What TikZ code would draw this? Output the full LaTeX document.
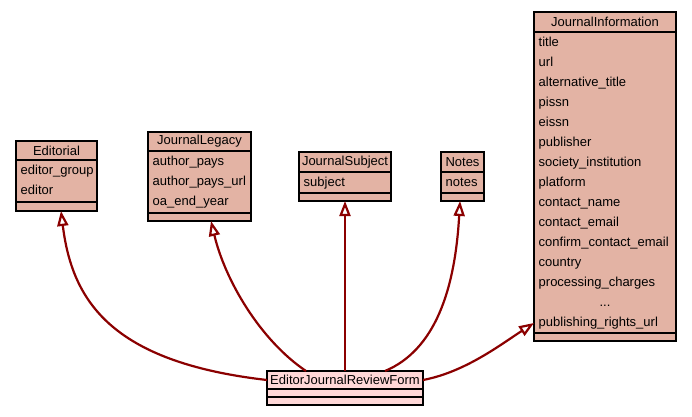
\documentclass[tikz,border=0pt]{standalone}
\usepackage{fontspec}
\setmainfont{Liberation Sans}
\usetikzlibrary{arrows.meta}
\definecolor{clsfill}{HTML}{E3B3A4}
\definecolor{formfill}{HTML}{FFD8D8}
\definecolor{edgecol}{HTML}{8B0000}
\begin{document}
\begin{tikzpicture}[x=1pt,y=-1pt,
  part/.style={draw=black, line width=1.2pt, fill=clsfill, inner sep=0pt, outer sep=0pt, anchor=north west, font=\fontsize{13}{15}\selectfont},
  attr/.style={anchor=base west, inner sep=0pt, font=\fontsize{13}{15}\selectfont},
  gen/.style={draw=edgecol, line width=2.2pt, -{Triangle[open, length=15pt, width=11pt]}}
]
\useasboundingbox[fill=white] (0,0) rectangle (692,416);

% Editorial
\node[part, minimum width=81pt, minimum height=19pt] (edT) at (16,141) {Editorial};
\node[part, minimum width=81pt, minimum height=42pt] (edA) at (16,160) {};
\node[part, minimum width=81pt, minimum height=9pt] (edO) at (16,202) {};
\node[attr] (ed1) at (20.5,174.5) {editor\_group};
\node[attr] (ed2) at (20.5,194.5) {editor};

% JournalLegacy
\node[part, minimum width=103pt, minimum height=19pt] (jlT) at (148,132) {JournalLegacy};
\node[part, minimum width=103pt, minimum height=62pt] (jlA) at (148,151) {};
\node[part, minimum width=103pt, minimum height=8pt] (jlO) at (148,213) {};
\node[attr] (jl1) at (152.5,165.5) {author\_pays};
\node[attr] (jl2) at (152.5,185.5) {author\_pays\_url};
\node[attr] (jl3) at (152.5,205.5) {oa\_end\_year};

% JournalSubject
\node[part, minimum width=92pt, minimum height=20pt] (jsT) at (299,152) {JournalSubject};
\node[part, minimum width=92pt, minimum height=21pt] (jsA) at (299,172) {};
\node[part, minimum width=92pt, minimum height=8pt] (jsO) at (299,193) {};
\node[attr] (js1) at (303.5,186.5) {subject};

% Notes
\node[part, minimum width=43pt, minimum height=20pt] (noT) at (441,152) {Notes};
\node[part, minimum width=43pt, minimum height=21pt] (noA) at (441,172) {};
\node[part, minimum width=43pt, minimum height=8pt] (noO) at (441,193) {};
\node[attr] (no1) at (445.5,186.5) {notes};

% JournalInformation
\node[part, minimum width=142pt, minimum height=20pt] (jiT) at (534,12) {JournalInformation};
\node[part, minimum width=142pt, minimum height=301pt] (jiA) at (534,32) {};
\node[part, minimum width=142pt, minimum height=8pt] (jiO) at (534,333) {};
\node[attr] (ji1) at (538.5,46.5) {title};
\node[attr] (ji2) at (538.5,66.5) {url};
\node[attr] (ji3) at (538.5,86.5) {alternative\_title};
\node[attr] (ji4) at (538.5,106.5) {pissn};
\node[attr] (ji5) at (538.5,126.5) {eissn};
\node[attr] (ji6) at (538.5,146.5) {publisher};
\node[attr] (ji7) at (538.5,166.5) {society\_institution};
\node[attr] (ji8) at (538.5,186.5) {platform};
\node[attr] (ji9) at (538.5,206.5) {contact\_name};
\node[attr] (ji10) at (538.5,226.5) {contact\_email};
\node[attr] (ji11) at (538.5,246.5) {confirm\_contact\_email};
\node[attr] (ji12) at (538.5,266.5) {country};
\node[attr] (ji13) at (538.5,286.5) {processing\_charges};
\node[attr, anchor=base] (ji14) at (605,306.5) {...};
\node[attr] (ji15) at (538.5,326.5) {publishing\_rights\_url};

% EditorJournalReviewForm
\node[part, fill=formfill, minimum width=156pt, minimum height=18pt] (ejT) at (267,371) {EditorJournalReviewForm};
\node[part, fill=formfill, minimum width=156pt, minimum height=8pt] (ejA) at (267,389) {};
\node[part, fill=formfill, minimum width=156pt, minimum height=8pt] (ejO) at (267,397) {};

% generalisations
\draw[gen] (ejT.west) .. controls (110,362) and (72,300) .. ([xshift=4.5pt]edO.south);
\draw[gen] ([xshift=39pt]ejT.north west) .. controls (260,340) and (225,280) .. ([xshift=11.5pt]jlO.south);
\draw[gen] (ejT.north) -- (jsO.south);
\draw[gen] ([xshift=40pt]ejT.north) .. controls (435,350) and (455,290) .. ([xshift=-2.5pt]noO.south);
\draw[gen] (ejT.east) .. controls (465,372) and (500,345) .. ([yshift=10pt]jiA.south west);
\end{tikzpicture}
\end{document}
